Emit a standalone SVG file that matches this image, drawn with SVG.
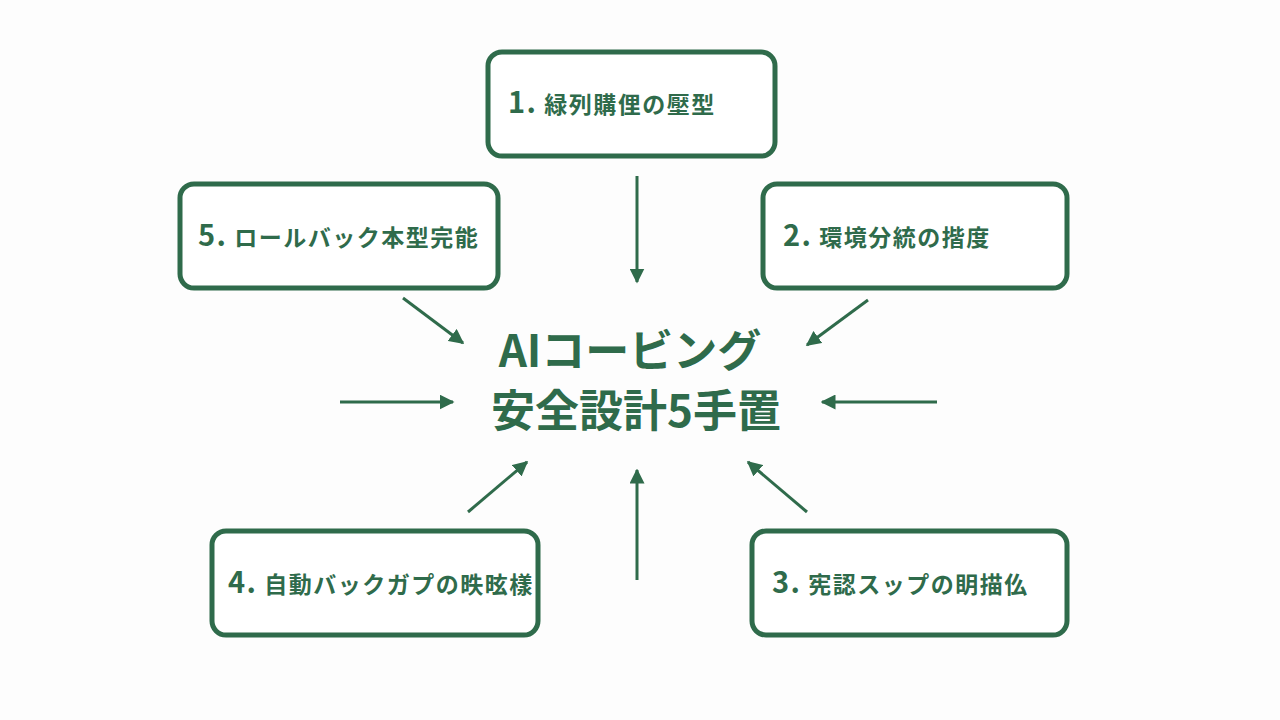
<svg xmlns="http://www.w3.org/2000/svg" width="1280" height="720" viewBox="0 0 1280 720">
<style>
.b{fill:#fff;stroke:#2f6b4b;stroke-width:5}
.t{font-family:"Noto Sans CJK JP","Noto Sans",sans-serif;font-weight:bold;fill:#2f6b4b;font-size:23px;letter-spacing:1.5px}
.n{font-size:29px}
.c{stroke:#2f6b4b;stroke-width:3;fill:none;marker-end:url(#a)}
.h{font-family:"Noto Sans CJK JP","Noto Sans",sans-serif;font-weight:bold;fill:#2f6b4b;font-size:44px;text-anchor:middle}
</style>
<defs><marker id="a" viewBox="0 0 10 10" refX="9" refY="5" markerWidth="5" markerHeight="5" orient="auto"><path d="M0,0L10,5L0,10z" fill="#2f6b4b"/></marker></defs>
<rect width="1280" height="720" fill="#fdfdfd"/>
<g id="n1"><rect class="b" x="488" y="52" width="287" height="104" rx="14"/><text class="t" x="508" y="113"><tspan class="n">1.</tspan> 緑列購俚の壓型</text></g>
<g id="n2"><rect class="b" x="763" y="184" width="304" height="104" rx="14"/><text class="t" x="783" y="246"><tspan class="n">2.</tspan> 環境分統の揩度</text></g>
<g id="n3"><rect class="b" x="752" y="531" width="315" height="104" rx="14"/><text class="t" x="772" y="593"><tspan class="n">3.</tspan> 宪認スップの眀描仫</text></g>
<g id="n4"><rect class="b" x="212" y="531" width="326" height="104" rx="14"/><text class="t" x="228" y="593"><tspan class="n">4.</tspan> 自動バックガプの昳昡樣</text></g>
<g id="n5"><rect class="b" x="180" y="184" width="318" height="104" rx="14"/><text class="t" x="198" y="246"><tspan class="n">5.</tspan> ロールバック本型完能</text></g>
<g id="title"><text class="h" x="630" y="367">AIコービング</text><text class="h" x="636" y="427">安全設計5手置</text></g>
<g id="connectors">
<line class="c" x1="637" y1="176" x2="637" y2="282"/>
<line class="c" x1="403" y1="298" x2="463" y2="343"/>
<line class="c" x1="868" y1="300" x2="807" y2="345"/>
<line class="c" x1="340" y1="402" x2="453" y2="402"/>
<line class="c" x1="937" y1="402" x2="822" y2="402"/>
<line class="c" x1="468" y1="512" x2="527" y2="462"/>
<line class="c" x1="637" y1="580" x2="637" y2="470"/>
<line class="c" x1="807" y1="512" x2="748" y2="462"/>
</g>
</svg>
